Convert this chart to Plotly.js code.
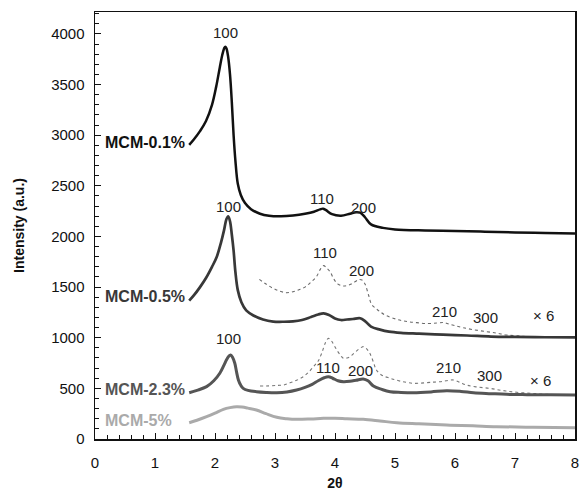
<!DOCTYPE html>
<html><head><meta charset="utf-8">
<script src="https://cdn.plot.ly/plotly-3.0.1.min.js"></script>
<style>html,body{margin:0;padding:0;background:#fff}#c{width:581px;height:491px}</style>
</head><body><div id="c"></div>
<script>
const x01 = [1.57,1.65,1.75,1.85,1.95,2.02,2.08,2.12,2.15,2.17,2.19,2.22,2.25,2.28,2.31,2.34,2.38,2.43,2.5,2.6,2.75,2.9,3.1,3.3,3.5,3.65,3.75,3.8,3.85,3.95,4.1,4.25,4.35,4.42,4.5,4.6,4.8,5.0,5.5,6.0,6.5,7.0,7.5,8.0];
const y01 = [2904,2960,3040,3140,3300,3480,3670,3790,3855,3875,3860,3770,3600,3330,3000,2750,2520,2410,2330,2270,2225,2205,2200,2208,2225,2245,2268,2275,2260,2220,2205,2225,2240,2235,2190,2120,2085,2070,2060,2055,2048,2040,2035,2030];

const x05 = [1.57,1.65,1.75,1.85,1.95,2.03,2.1,2.15,2.19,2.22,2.25,2.28,2.31,2.34,2.38,2.44,2.52,2.64,2.8,2.97,3.15,3.3,3.45,3.6,3.72,3.81,3.9,4.0,4.1,4.2,4.3,4.42,4.5,4.6,4.75,4.9,5.1,5.4,5.8,6.2,6.6,7.0,7.5,8.0];
const y05 = [1366,1420,1500,1590,1700,1800,1940,2060,2170,2200,2150,2020,1860,1650,1470,1350,1270,1220,1180,1160,1158,1162,1175,1205,1230,1241,1225,1190,1175,1180,1185,1192,1165,1110,1080,1060,1048,1040,1030,1022,1012,1008,1005,1003];

const x05x6 = [2.74,2.85,2.97,3.08,3.19,3.3,3.4,3.5,3.6,3.69,3.76,3.81,3.86,3.92,3.98,4.05,4.14,4.2,4.27,4.34,4.4,4.45,4.5,4.56,4.61,4.68,4.75,4.85,5.03,5.2,5.36,5.55,5.7,5.81,5.9,6.0,6.14,6.3,6.53,6.7,6.86,7.05,7.25,7.5,7.75,8.0];
const y05x6 = [1577,1530,1488,1460,1445,1455,1475,1500,1550,1603,1680,1712,1690,1650,1580,1530,1511,1515,1530,1555,1575,1570,1530,1420,1330,1290,1257,1220,1182,1160,1149,1140,1145,1150,1135,1120,1099,1080,1060,1045,1027,1018,1010,1006,1004,1004];

const x23 = [1.57,1.7,1.86,1.98,2.08,2.15,2.19,2.23,2.26,2.29,2.33,2.36,2.39,2.43,2.47,2.55,2.69,2.85,3.03,3.2,3.36,3.5,3.62,3.72,3.82,3.89,3.96,4.05,4.14,4.25,4.35,4.47,4.55,4.64,4.78,4.92,5.1,5.31,5.6,5.86,6.1,6.31,6.6,6.86,7.2,7.6,8.0];
const y23 = [457,480,517,575,649,730,780,818,830,810,748,660,583,530,500,480,467,460,457,465,484,510,540,575,605,615,600,575,566,570,580,593,575,523,490,467,460,457,465,477,470,457,448,441,438,436,435];

const x23x6 = [2.75,2.9,3.05,3.14,3.25,3.36,3.47,3.56,3.65,3.72,3.78,3.84,3.89,3.94,3.99,4.05,4.1,4.14,4.2,4.25,4.32,4.38,4.44,4.47,4.52,4.58,4.64,4.69,4.78,4.92,5.1,5.31,5.5,5.65,5.75,5.85,5.97,6.08,6.19,6.35,6.58,6.8,7.03,7.3,7.53,7.8,8.0];
const y23x6 = [523,525,530,533,555,580,615,660,720,770,850,950,994,970,920,860,820,797,800,813,850,880,905,912,895,846,760,681,630,600,570,550,555,562,566,575,583,560,533,515,500,478,461,450,441,437,435];

const x5 = [1.57,1.7,1.86,2.0,2.14,2.25,2.36,2.45,2.55,2.69,2.85,3.03,3.2,3.36,3.6,3.81,4.0,4.2,4.47,4.75,5.03,5.4,5.86,6.3,6.69,7.3,8.0];
const y5 = [161,185,220,255,293,310,319,316,305,286,250,214,200,194,198,204,205,200,194,178,161,150,138,130,122,116,112];

const seriesNames = ["MCM-0.1%","MCM-0.5%","MCM-2.3%","MCM-5%"];
const peakLabels = ["100","110","200","210","300","× 6"];

const traces = [
  {x:x05x6,y:y05x6,mode:'lines',line:{color:'#6a6a6a',width:1.1,dash:'dot',shape:'spline'}},
  {x:x23x6,y:y23x6,mode:'lines',line:{color:'#777',width:1.1,dash:'dot',shape:'spline'}},
  {x:x5,y:y5,mode:'lines',line:{color:'#aaaaaa',width:3,shape:'spline'}},
  {x:x23,y:y23,mode:'lines',line:{color:'#555555',width:3,shape:'spline'}},
  {x:x05,y:y05,mode:'lines',line:{color:'#383838',width:2.7,shape:'spline'}},
  {x:x01,y:y01,mode:'lines',line:{color:'#111111',width:2.5,shape:'spline'}}
];

const F = 'Liberation Sans, Arial, sans-serif';
function lab(x,y,t,opts){return Object.assign({x:x,y:y,text:t,showarrow:false,xref:'x',yref:'y',font:{family:F,size:15,color:'#222'}},opts||{});}
function slab(y,t,c){return {x:0.13,y:y,text:'<b>'+t+'</b>',showarrow:false,xanchor:'left',xref:'x',yref:'y',font:{family:F,size:16,color:c}};}

const annotations = [
  lab(2.17,4010,peakLabels[0]),
  lab(3.78,2377,peakLabels[1]),
  lab(4.48,2282,peakLabels[2]),
  lab(2.22,2301,peakLabels[0]),
  lab(3.83,1844,peakLabels[1]),
  lab(4.44,1663,peakLabels[2]),
  lab(5.83,1257,peakLabels[3]),
  lab(6.5,1198,peakLabels[4]),
  lab(7.47,1215,peakLabels[5]),
  lab(2.22,994,peakLabels[0]),
  lab(3.89,708,peakLabels[1]),
  lab(4.42,681,peakLabels[2]),
  lab(5.89,708,peakLabels[3]),
  lab(6.58,632,peakLabels[4]),
  lab(7.42,576,peakLabels[5]),
  slab(2924,seriesNames[0],'#111'),
  slab(1405,seriesNames[1],'#383838'),
  slab(491,seriesNames[2],'#555'),
  slab(181,seriesNames[3],'#aaa')
];

const layout = {
  width:581,height:491,
  margin:{l:95,r:6,t:12,b:52},
  paper_bgcolor:'#fff',plot_bgcolor:'#fff',
  showlegend:false,
  font:{family:F,color:'#111'},
  xaxis:{range:[0,8],tickmode:'linear',tick0:0,dtick:1,ticks:'inside',ticklen:6,tickwidth:1,tickcolor:'#111',
    minor:{dtick:0.2,ticks:'inside',ticklen:4,tickcolor:'#111',showgrid:false},
    showline:true,linecolor:'#111',linewidth:1.5,mirror:true,showgrid:false,zeroline:false,
    tickfont:{family:F,size:15,color:'#111'},ticklabelstandoff:9,
    title:{text:'<b>2θ</b>',font:{family:F,size:14,color:'#111'},standoff:9}},
  yaxis:{range:[0,4217],tickmode:'linear',tick0:0,dtick:500,ticks:'inside',ticklen:6,tickwidth:1,tickcolor:'#111',
    minor:{dtick:100,ticks:'inside',ticklen:4,tickcolor:'#111',showgrid:false},
    showline:true,linecolor:'#111',linewidth:1.5,mirror:true,showgrid:false,zeroline:false,
    tickfont:{family:F,size:15,color:'#111'},ticklabelstandoff:6,
    title:{text:'<b>Intensity (a.u.)</b>',font:{family:F,size:14,color:'#111'},standoff:23}},
  annotations:annotations
};
Plotly.newPlot('c',traces,layout,{staticPlot:true,displayModeBar:false});
</script></body></html>
